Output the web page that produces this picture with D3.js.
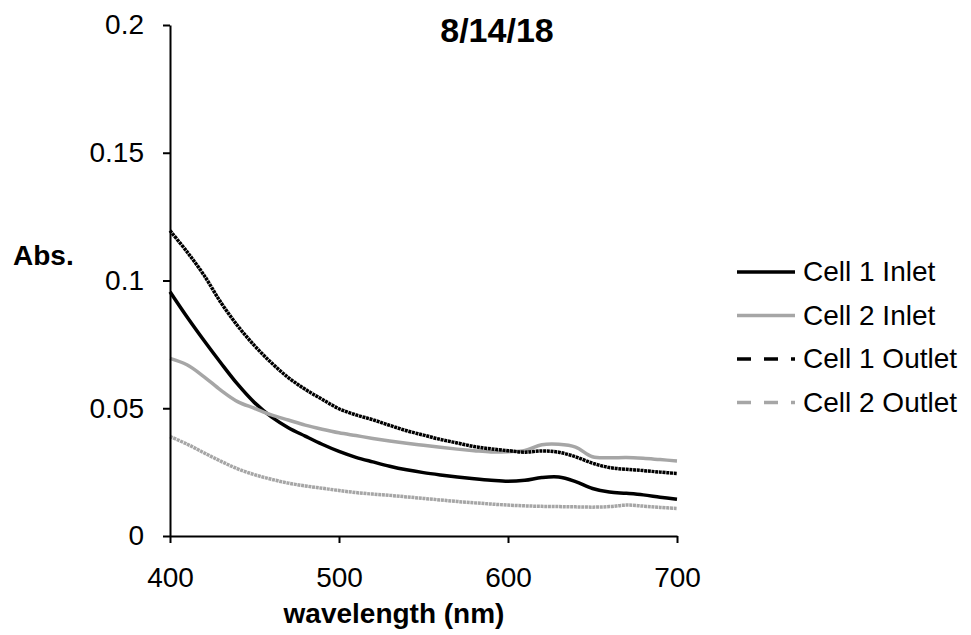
<!DOCTYPE html>
<html>
<head>
<meta charset="utf-8">
<script src="https://cdn.jsdelivr.net/npm/d3@7"></script>
<style>
  body { margin: 0; background: #fff; }
  svg { font-family: "Liberation Sans", Arial, sans-serif; }
  .axis path, .axis line { stroke: #000; stroke-width: 2; }
  .axis text { font-size: 28px; fill: #000; }
</style>
</head>
<body>
<div id="plot"></div>
<script>
// wavelength (nm), every 10 nm
const wavelengths = [400, 410, 420, 430, 440, 450, 460, 470, 480, 490, 500,
  510, 520, 530, 540, 550, 560, 570, 580, 590, 600,
  610, 620, 630, 640, 650, 660, 670, 680, 690, 700];

const cell1Inlet = [0.0956, 0.0858, 0.0766, 0.0678, 0.0594, 0.0522, 0.0466, 0.0424, 0.0391, 0.0359, 0.0331,
  0.0308, 0.0290, 0.0273, 0.0259, 0.0248, 0.0239, 0.0231, 0.0224, 0.0218, 0.0214,
  0.0218, 0.0229, 0.0231, 0.0213, 0.0186, 0.0172, 0.0167, 0.0161, 0.0152, 0.0144];

const cell2Inlet = [0.0695, 0.0670, 0.0624, 0.0571, 0.0526, 0.0500, 0.0474, 0.0454, 0.0434, 0.0418, 0.0404,
  0.0393, 0.0382, 0.0372, 0.0363, 0.0355, 0.0347, 0.0340, 0.0334, 0.0329, 0.0330,
  0.0335, 0.0357, 0.0359, 0.0348, 0.0310, 0.0306, 0.0307, 0.0304, 0.0299, 0.0294];

const cell1Outlet = [0.1195, 0.1113, 0.1022, 0.0915, 0.0823, 0.0745, 0.0678, 0.0620, 0.0574, 0.0535, 0.0498,
  0.0474, 0.0455, 0.0433, 0.0412, 0.0395, 0.0378, 0.0364, 0.0350, 0.0341, 0.0334,
  0.0328, 0.0333, 0.0328, 0.0310, 0.0285, 0.0268, 0.0261, 0.0256, 0.0250, 0.0245];

const cell2Outlet = [0.0389, 0.0360, 0.0326, 0.0293, 0.0263, 0.0240, 0.0222, 0.0207, 0.0196, 0.0187, 0.0178,
  0.0170, 0.0164, 0.0159, 0.0153, 0.0147, 0.0141, 0.0135, 0.0130, 0.0125, 0.0121,
  0.0118, 0.0116, 0.0115, 0.0114, 0.0113, 0.0115, 0.0121, 0.0117, 0.0112, 0.0108];

const seriesNames = ["Cell 1 Inlet", "Cell 2 Inlet", "Cell 1 Outlet", "Cell 2 Outlet"];
const seriesValues = [cell1Inlet, cell2Inlet, cell1Outlet, cell2Outlet];
const xTicks = [400, 500, 600, 700];
const yTicks = [0, 0.05, 0.1, 0.15, 0.2];

// styling per series
const colors = ["#000", "#a6a6a6", "#000", "#a6a6a6"];
const dashed = [false, false, true, true];

const margin = {top: 25, right: 294, bottom: 99, left: 170},
      width = 971 - margin.left - margin.right,
      height = 635 - margin.top - margin.bottom;

const x = d3.scaleLinear().domain([400, 700]).range([0, width]);
const y = d3.scaleLinear().domain([0, 0.2]).range([height, 0]);

const svg = d3.select("#plot").append("svg")
    .attr("width", 971)
    .attr("height", 635)
  .append("g")
    .attr("transform", `translate(${margin.left},${margin.top})`);

// lines
const line = d3.line()
    .x(d => x(d[0]))
    .y(d => y(d[1]))
    .curve(d3.curveCatmullRom);

seriesValues.forEach((vals, i) => {
  svg.append("path")
    .datum(wavelengths.map((w, j) => [w, vals[j]]))
    .attr("fill", "none")
    .attr("stroke", colors[i])
    .attr("stroke-width", 3.5)
    .attr("stroke-dasharray", dashed[i] ? "3,0.7" : null)
    .attr("d", line);
});

// axes
svg.append("g")
    .attr("class", "x axis")
    .attr("transform", `translate(0,${height})`)
    .call(d3.axisBottom(x).tickValues(xTicks).tickSize(7).tickSizeOuter(0).tickPadding(24));

svg.append("g")
    .attr("class", "y axis")
    .call(d3.axisLeft(y).tickValues(yTicks).tickFormat(d => String(d)).tickSize(7).tickSizeOuter(0).tickPadding(19));

svg.selectAll(".axis text").attr("font-family", null);

// title
svg.append("text")
    .attr("x", 497 - margin.left)
    .attr("y", 42 - margin.top)
    .attr("text-anchor", "middle")
    .attr("font-size", "34px")
    .attr("font-weight", "bold")
    .text("8/14/18");

// axis titles
svg.append("text")
    .attr("x", 394 - margin.left)
    .attr("y", 623 - margin.top)
    .attr("text-anchor", "middle")
    .attr("font-size", "28px")
    .attr("font-weight", "bold")
    .text("wavelength (nm)");

svg.append("text")
    .attr("x", 13 - margin.left)
    .attr("y", 265 - margin.top)
    .attr("font-size", "28px")
    .attr("font-weight", "bold")
    .text("Abs.");

// legend
const legend = svg.selectAll(".legend")
    .data(seriesNames)
  .enter().append("g")
    .attr("class", "legend")
    .attr("transform", (d, i) => `translate(${737 - margin.left},${272 - margin.top + i * 43.5})`);

legend.append("line")
    .attr("x1", 0)
    .attr("x2", 58)
    .attr("stroke", (d, i) => colors[i])
    .attr("stroke-width", 3.5)
    .attr("stroke-dasharray", (d, i) => dashed[i] ? "14,13" : null);

legend.append("text")
    .attr("x", 66)
    .attr("y", 9)
    .attr("font-size", "28px")
    .text(d => d);
</script>
</body>
</html>
